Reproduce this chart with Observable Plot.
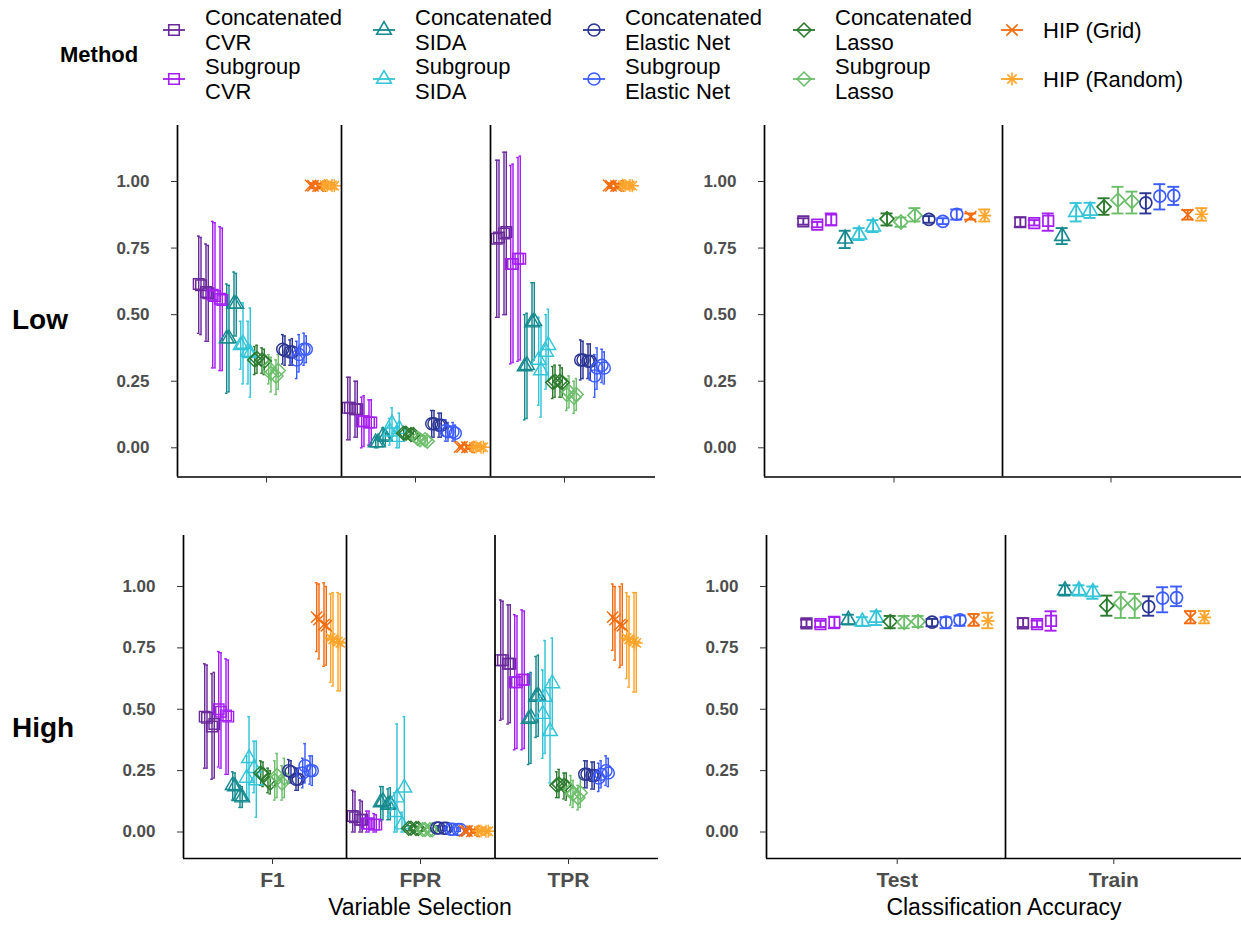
<!DOCTYPE html>
<html><head><meta charset="utf-8">
<script src="https://cdn.jsdelivr.net/npm/d3@7"></script>
<script src="https://cdn.jsdelivr.net/npm/@observablehq/plot@0.6"></script>
<style>
html,body{margin:0;padding:0;background:#fff;overflow:hidden;}
#root{position:relative;width:1241px;height:925px;font-family:"Liberation Sans",Arial,Helvetica,sans-serif;}
#root svg.panel{position:absolute;left:0;top:0;}
.t{position:absolute;white-space:nowrap;line-height:1;color:#000;}
.key{position:absolute;}
</style></head><body><div id="root"></div>
<script>
// ---------------- DATA ----------------
const methods = ["Concatenated CVR","Subgroup CVR","Concatenated SIDA","Subgroup SIDA","Concatenated Lasso","Subgroup Lasso","Concatenated Elastic Net","Subgroup Elastic Net","HIP (Grid)","HIP (Random)"];
const methodColors = ["#6b2a9b","#a51ff2","#168a8f","#33c4d8","#2c7a2e","#6cbe6a","#2b3592","#3c5cff","#f26c0e","#ffa52c"];
const methodShapes = ["square","square","triangle","triangle","diamond","diamond","circle","circle","times","asterisk"];
const levels = ["Low","High"];
const varMetrics = ["F1","FPR","TPR"];
const classSplits = ["Test","Train"];
const yTicks = [0, 0.25, 0.5, 0.75, 1];
// classification: which method each of the 14 points belongs to (left to right)
const classMethodIndex = [0,1,1,2,3,3,4,5,5,6,7,7,8,9];

// Variable selection: rows = methods (order above), 4 estimates each
const low_F1_mean = [[0.615,0.61,0.585,0.58],[0.575,0.57,0.56,0.555],[0.41,0.41,0.54,0.54],[0.385,0.39,0.36,0.355],[0.33,0.335,0.33,0.325],[0.30,0.28,0.27,0.29],[0.37,0.365,0.36,0.36],[0.33,0.35,0.37,0.37],[0.985,0.984,0.983,0.983],[0.986,0.985,0.985,0.984]];
const low_F1_lo = [[0.43,0.425,0.40,0.40],[0.30,0.30,0.29,0.29],[0.205,0.21,0.42,0.42],[0.295,0.24,0.24,0.19],[0.275,0.28,0.28,0.275],[0.24,0.21,0.20,0.22],[0.315,0.31,0.31,0.31],[0.26,0.285,0.31,0.32],[0.975,0.974,0.973,0.973],[0.975,0.974,0.974,0.973]];
const low_F1_hi = [[0.795,0.79,0.765,0.76],[0.85,0.845,0.83,0.825],[0.615,0.61,0.66,0.655],[0.475,0.545,0.475,0.525],[0.38,0.385,0.375,0.37],[0.35,0.34,0.33,0.35],[0.425,0.42,0.405,0.41],[0.40,0.425,0.43,0.42],[0.995,0.994,0.993,0.993],[0.997,0.996,0.996,0.995]];

const low_FPR_mean = [[0.15,0.15,0.145,0.145],[0.10,0.10,0.095,0.095],[0.02,0.02,0.045,0.04],[0.06,0.09,0.04,0.07],[0.055,0.055,0.05,0.05],[0.035,0.03,0.03,0.025],[0.09,0.09,0.085,0.085],[0.065,0.06,0.06,0.055],[0.003,0.003,0.002,0.002],[0.003,0.003,0.002,0.002]];
const low_FPR_lo = [[0.03,0.03,0.04,0.04],[0.0,0.005,0.01,0.01],[0.0,0.0,0.015,0.01],[0.01,0.03,0.0,0.0],[0.035,0.035,0.03,0.03],[0.02,0.015,0.015,0.01],[0.04,0.04,0.04,0.04],[0.025,0.025,0.025,0.025],[0,0,0,0],[0,0,0,0]];
const low_FPR_hi = [[0.265,0.265,0.25,0.25],[0.19,0.195,0.18,0.18],[0.04,0.04,0.075,0.07],[0.11,0.15,0.08,0.13],[0.075,0.075,0.07,0.07],[0.05,0.045,0.045,0.04],[0.14,0.14,0.13,0.13],[0.105,0.095,0.095,0.085],[0.008,0.008,0.007,0.007],[0.008,0.008,0.007,0.007]];

const low_TPR_mean = [[0.785,0.79,0.805,0.81],[0.69,0.69,0.71,0.71],[0.305,0.31,0.47,0.475],[0.33,0.29,0.36,0.385],[0.245,0.25,0.25,0.245],[0.20,0.21,0.19,0.20],[0.33,0.33,0.325,0.325],[0.27,0.30,0.31,0.30],[0.985,0.984,0.983,0.983],[0.986,0.985,0.985,0.984]];
const low_TPR_lo = [[0.49,0.49,0.50,0.50],[0.315,0.32,0.325,0.33],[0.105,0.11,0.32,0.33],[0.16,0.115,0.22,0.25],[0.185,0.19,0.19,0.19],[0.14,0.15,0.13,0.14],[0.255,0.26,0.26,0.255],[0.19,0.22,0.245,0.24],[0.975,0.974,0.973,0.973],[0.975,0.974,0.974,0.973]];
const low_TPR_hi = [[1.08,1.08,1.11,1.11],[1.06,1.065,1.09,1.095],[0.50,0.505,0.62,0.62],[0.49,0.46,0.50,0.52],[0.305,0.31,0.31,0.30],[0.26,0.27,0.25,0.26],[0.405,0.40,0.39,0.39],[0.35,0.375,0.37,0.36],[0.995,0.994,0.993,0.993],[0.997,0.996,0.996,0.995]];

const high_F1_mean = [[0.47,0.465,0.43,0.44],[0.50,0.49,0.475,0.47],[0.19,0.185,0.145,0.14],[0.22,0.30,0.26,0.21],[0.24,0.235,0.21,0.20],[0.21,0.23,0.20,0.22],[0.25,0.245,0.215,0.215],[0.24,0.27,0.25,0.25],[0.875,0.865,0.845,0.84],[0.79,0.785,0.775,0.77]];
const high_F1_lo = [[0.26,0.26,0.215,0.22],[0.265,0.26,0.235,0.235],[0.13,0.13,0.10,0.10],[0.13,0.13,0.16,0.06],[0.19,0.185,0.16,0.155],[0.13,0.14,0.13,0.14],[0.20,0.20,0.17,0.17],[0.18,0.20,0.195,0.19],[0.735,0.705,0.675,0.68],[0.61,0.595,0.575,0.575]];
const high_F1_hi = [[0.685,0.68,0.645,0.65],[0.735,0.73,0.705,0.70],[0.245,0.24,0.19,0.185],[0.31,0.47,0.37,0.37],[0.29,0.285,0.26,0.25],[0.29,0.32,0.27,0.30],[0.295,0.29,0.26,0.26],[0.30,0.36,0.31,0.31],[1.015,1.01,1.015,1.0],[0.97,0.975,0.975,0.97]];

const high_FPR_mean = [[0.065,0.06,0.05,0.05],[0.035,0.035,0.03,0.03],[0.12,0.125,0.11,0.115],[0.08,0.14,0.03,0.18],[0.015,0.015,0.014,0.014],[0.01,0.01,0.009,0.009],[0.016,0.016,0.015,0.015],[0.011,0.011,0.01,0.01],[0.004,0.004,0.003,0.003],[0.004,0.004,0.003,0.003]];
const high_FPR_lo = [[0,0,0,0],[0,0,0,0],[0.045,0.05,0.05,0.05],[0,0,0,0],[0.005,0.005,0.005,0.005],[0.003,0.003,0.002,0.002],[0.007,0.007,0.006,0.006],[0.004,0.004,0.003,0.003],[0,0,0,0],[0,0,0,0]];
const high_FPR_hi = [[0.17,0.165,0.13,0.125],[0.085,0.085,0.075,0.07],[0.185,0.185,0.175,0.18],[0.16,0.44,0.08,0.47],[0.025,0.025,0.023,0.023],[0.017,0.017,0.016,0.016],[0.025,0.025,0.024,0.024],[0.018,0.018,0.017,0.017],[0.008,0.008,0.007,0.007],[0.008,0.008,0.007,0.007]];

const high_TPR_mean = [[0.70,0.70,0.685,0.685],[0.61,0.61,0.62,0.62],[0.46,0.465,0.55,0.555],[0.48,0.55,0.41,0.605],[0.19,0.195,0.19,0.185],[0.17,0.155,0.14,0.16],[0.235,0.235,0.23,0.23],[0.22,0.235,0.25,0.24],[0.875,0.865,0.845,0.84],[0.79,0.785,0.775,0.77]];
const high_TPR_lo = [[0.455,0.46,0.44,0.445],[0.335,0.34,0.335,0.34],[0.275,0.28,0.385,0.39],[0.30,0.32,0.20,0.42],[0.14,0.14,0.135,0.13],[0.11,0.10,0.09,0.10],[0.18,0.18,0.175,0.175],[0.165,0.18,0.19,0.185],[0.74,0.70,0.67,0.68],[0.625,0.59,0.57,0.57]];
const high_TPR_hi = [[0.945,0.94,0.925,0.925],[0.885,0.88,0.905,0.90],[0.645,0.65,0.715,0.72],[0.66,0.78,0.62,0.79],[0.245,0.255,0.24,0.24],[0.23,0.21,0.19,0.22],[0.29,0.29,0.285,0.285],[0.28,0.29,0.31,0.30],[1.01,1.0,1.0,1.01],[0.975,0.96,0.975,0.975]];

// Classification accuracy: 14 points (see classMethodIndex)
const low_Test_mean = [0.85,0.838,0.856,0.785,0.80,0.83,0.86,0.848,0.873,0.858,0.85,0.877,0.868,0.872];
const low_Test_lo = [0.838,0.828,0.835,0.75,0.78,0.81,0.835,0.83,0.85,0.845,0.84,0.857,0.857,0.85];
const low_Test_hi = [0.862,0.848,0.88,0.815,0.825,0.855,0.88,0.865,0.90,0.87,0.862,0.895,0.88,0.895];
const low_Train_mean = [0.847,0.844,0.852,0.795,0.885,0.89,0.905,0.93,0.925,0.92,0.945,0.947,0.875,0.877];
const low_Train_lo = [0.83,0.835,0.815,0.765,0.85,0.863,0.875,0.88,0.88,0.88,0.895,0.912,0.857,0.853];
const low_Train_hi = [0.865,0.855,0.88,0.825,0.919,0.92,0.937,0.98,0.962,0.956,0.99,0.98,0.893,0.90];
const high_Test_mean = [0.85,0.847,0.854,0.864,0.857,0.872,0.857,0.854,0.857,0.855,0.855,0.864,0.864,0.86];
const high_Test_lo = [0.835,0.835,0.83,0.845,0.84,0.843,0.83,0.83,0.835,0.838,0.83,0.84,0.84,0.83];
const high_Test_hi = [0.865,0.86,0.877,0.885,0.875,0.899,0.88,0.88,0.88,0.868,0.875,0.882,0.888,0.893];
const high_Train_mean = [0.85,0.847,0.86,0.984,0.984,0.977,0.922,0.932,0.93,0.918,0.953,0.955,0.874,0.874];
const high_Train_lo = [0.835,0.835,0.82,0.963,0.963,0.95,0.881,0.872,0.872,0.881,0.895,0.92,0.85,0.85];
const high_Train_hi = [0.871,0.861,0.899,1.005,1.005,1.0,0.963,0.977,0.97,0.96,0.997,1.0,0.90,0.90];

// ---------------- LAYOUT ----------------
const W = 1241, H = 925;
const FONT = "Liberation Sans, Arial, Helvetica, sans-serif";
const rowGeom = {
  Low:  {top: 125, bottom: 476.5, y0: 447.3, y1: 181},
  High: {top: 535, bottom: 858,   y0: 831.5, y1: 586}
};
const varGeom = {
  Low:  [{left:177, right:341, tick:266}, {left:341, right:490, tick:415}, {left:490, right:655, tick:564}],
  High: [{left:183, right:346, tick:272}, {left:346, right:494.5, tick:420}, {left:494.5, right:658, tick:568}]
};
const classGeom = {
  Low:  [{left:764, right:1002, tick:893.5}, {left:1002, right:1241, tick:1110.5}],
  High: [{left:766, right:1005, tick:896.7}, {left:1005, right:1241, tick:1113.3}]
};
const VAR_BAND = 148, CLASS_BAND = 217;
const varPitch = 14 / VAR_BAND;
const varWithin = [-4.8, -2.5, 2.5, 4.8].map(d => d / VAR_BAND);
const classPitch = 0.9 / 14;

const shapeSpec = {
  square:   [{symbol: "square2", r: 6.7}],
  triangle: [{symbol: "triangle2", r: 7}],
  diamond:  [{symbol: "diamond2", r: 6.3}],
  circle:   [{symbol: "circle", r: 6}],
  times:    [{symbol: "times", r: 5.2}],
  asterisk: [{symbol: "plus", r: 4.3}, {symbol: "times", r: 4.3}]
};

const dataSets = {
  low_F1: [low_F1_mean, low_F1_lo, low_F1_hi], low_FPR: [low_FPR_mean, low_FPR_lo, low_FPR_hi], low_TPR: [low_TPR_mean, low_TPR_lo, low_TPR_hi],
  high_F1: [high_F1_mean, high_F1_lo, high_F1_hi], high_FPR: [high_FPR_mean, high_FPR_lo, high_FPR_hi], high_TPR: [high_TPR_mean, high_TPR_lo, high_TPR_hi],
  low_Test: [low_Test_mean, low_Test_lo, low_Test_hi], low_Train: [low_Train_mean, low_Train_lo, low_Train_hi],
  high_Test: [high_Test_mean, high_Test_lo, high_Test_hi], high_Train: [high_Train_mean, high_Train_lo, high_Train_hi]
};

function varRows([mean, lo, hi]) {
  const rows = [];
  methods.forEach((m, i) => mean[i].forEach((v, k) => rows.push({
    method: m, x: (i - 4.5) * varPitch + varWithin[k], y: v, lo: lo[i][k], hi: hi[i][k]
  })));
  return rows;
}
function classRows([mean, lo, hi]) {
  return classMethodIndex.map((mi, j) => ({
    method: methods[mi], x: (j - (classMethodIndex.length - 1) / 2) * classPitch, y: mean[j], lo: lo[j], hi: hi[j]
  }));
}

function makePanel(g, rg, rows, o) {
  const band = o.band;
  const xv = px => (px - g.tick) / band;
  const yv = px => (rg.y0 - px) / (rg.y0 - rg.y1);
  const marks = [
    Plot.ruleX(rows, {x: "x", y1: "lo", y2: "hi", stroke: "method", strokeWidth: o.errW}),
    Plot.ruleY(rows, {y: "lo", x1: d => d.x - o.cap, x2: d => d.x + o.cap, stroke: "method", strokeWidth: o.errW}),
    Plot.ruleY(rows, {y: "hi", x1: d => d.x - o.cap, x2: d => d.x + o.cap, stroke: "method", strokeWidth: o.errW})
  ];
  methods.forEach((m, i) => {
    const sub = rows.filter(d => d.method === m);
    for (const s of shapeSpec[methodShapes[i]]) {
      marks.push(Plot.dot(sub, {x: "x", y: "y", symbol: s.symbol, r: s.r, stroke: "method", fill: "none", strokeWidth: o.symW}));
    }
  });
  marks.push(Plot.ruleX([xv(g.left)], {y1: yv(rg.top), y2: yv(rg.bottom), stroke: "#000", strokeWidth: 1.7}));
  marks.push(Plot.ruleY([yv(rg.bottom)], {x1: xv(g.left), x2: xv(g.right), stroke: "#000", strokeWidth: 1.7}));
  marks.push(Plot.axisX({ticks: [0], tickSize: 6, tickPadding: 8, tickFormat: () => o.xlabel, label: null,
    fontSize: 21, fontWeight: "bold", fill: "#4d4d4d", stroke: "#333"}));
  if (o.showY) {
    marks.push(Plot.axisY({ticks: yTicks, tickSize: 6, tickPadding: 22, tickFormat: d3.format(".2f"), label: null,
      fontSize: 17, fontWeight: "bold", fill: "#4d4d4d", stroke: "#333"}));
  }
  const svg = Plot.plot({
    width: W, height: H,
    marginLeft: g.left, marginRight: W - g.right, marginTop: rg.top, marginBottom: H - rg.bottom,
    x: {domain: [-0.5, 0.5], range: [g.tick - band / 2, g.tick + band / 2], label: null},
    y: {domain: [0, 1], range: [rg.y0, rg.y1], label: null, axis: o.showY ? undefined : null},
    color: {domain: methods, range: methodColors},
    style: {background: "transparent", fontFamily: FONT, overflow: "visible"},
    marks
  });
  svg.classList.add("panel");
  return svg;
}

const root = document.getElementById("root");
for (const lev of levels) {
  const key = lev.toLowerCase();
  const rg = rowGeom[lev];
  varMetrics.forEach((met, j) => {
    root.appendChild(makePanel(varGeom[lev][j], rg, varRows(dataSets[`${key}_${met}`]), {
      band: VAR_BAND, cap: 1.3 / VAR_BAND, errW: 1.45, symW: 1.45, showY: j === 0, xlabel: lev === "High" ? met : ""
    }));
  });
  classSplits.forEach((sp, j) => {
    root.appendChild(makePanel(classGeom[lev][j], rg, classRows(dataSets[`${key}_${sp}`]), {
      band: CLASS_BAND, cap: 6 / CLASS_BAND, errW: 1.9, symW: 1.7, showY: j === 0, xlabel: lev === "High" ? sp : ""
    }));
  });
}

// ---------------- TEXT ----------------
function addText(txt, x, y, size, weight, anchor) {
  const d = document.createElement("div");
  d.className = "t";
  d.textContent = txt;
  d.style.fontSize = size + "px";
  d.style.fontWeight = weight;
  d.style.left = x + "px";
  d.style.top = (y - size * 0.5) + "px";
  if (anchor === "middle") d.style.transform = "translateX(-50%)";
  root.appendChild(d);
  return d;
}
addText("Low", 12, 320, 28, "bold");
addText("High", 12, 728, 28, "bold");
addText("Variable Selection", 420, 907, 23, "normal", "middle");
addText("Classification Accuracy", 1004, 907, 23, "normal", "middle");

// ---------------- LEGEND ----------------
addText("Method", 60, 55, 22, "bold");
const legendColumns = [[0, 1], [2, 3], [6, 7], [4, 5], [8, 9]];
const legendTextX = [205, 415, 625, 835, 1043];
const d3Sym = {square2: d3.symbolSquare2, triangle2: d3.symbolTriangle2, diamond2: d3.symbolDiamond2, circle: d3.symbolCircle, times: d3.symbolTimes, plus: d3.symbolPlus};
legendColumns.forEach((col, ci) => {
  col.forEach((mi, ri) => {
    const name = methods[mi];
    const keyY = ri === 0 ? 30 : 79;
    const kx = legendTextX[ci] - 31;
    const s = d3.select(root).append("svg").attr("class", "key").attr("width", 30).attr("height", 30)
      .style("left", (kx - 15) + "px").style("top", (keyY - 15) + "px");
    s.append("line").attr("x1", 4).attr("x2", 26).attr("y1", 15).attr("y2", 15)
      .attr("stroke", methodColors[mi]).attr("stroke-width", 1.8);
    for (const sp of shapeSpec[methodShapes[mi]]) {
      s.append("path").attr("transform", "translate(15,15)")
        .attr("d", d3.symbol(d3Sym[sp.symbol], Math.PI * sp.r * sp.r)())
        .attr("fill", "none").attr("stroke", methodColors[mi]).attr("stroke-width", 1.6);
    }
    if (name.startsWith("HIP")) {
      addText(name, legendTextX[ci], keyY + 1, 22, "normal");
    } else {
      const sp = name.indexOf(" ");
      addText(name.slice(0, sp), legendTextX[ci], keyY - 12.5, 22, "normal");
      addText(name.slice(sp + 1), legendTextX[ci], keyY + 12.5, 22, "normal");
    }
  });
});
</script></body></html>
